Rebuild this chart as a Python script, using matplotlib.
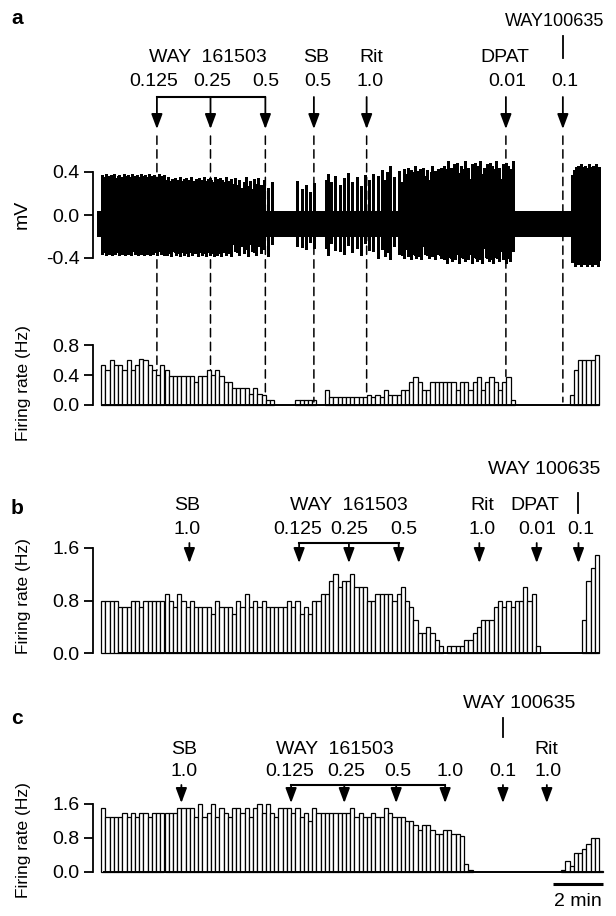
import numpy as np
import matplotlib
matplotlib.use('Agg')
import matplotlib.pyplot as plt
from matplotlib.transforms import blended_transform_factory as btf
from matplotlib.patches import ConnectionPatch

plt.rcParams['font.family'] = ['Liberation Sans', 'DejaVu Sans']

# ---------------- data (10-s bins) ----------------
rate_a = [.53, .47, .6, .53, .53, .47, .6, .47, .53, .62,
          .6, .53, .47, .4, .53, .47, .38, .38, .38, .38,
          .38, .38, .3, .38, .38, .47, .4, .47, .38, .3,
          .3, .22, .22, .22, .22, .15, .22, .15, .13, .07,
          .07, 0, 0, 0, 0, 0, .07, .07, .07, .07,
          .07, 0, 0, .2, .1, .1, .1, .1, .1, .1,
          .1, .1, .1, .13, .1, .13, .1, .2, .13, .13,
          .13, .2, .2, .3, .37, .3, .2, .2, .3, .3,
          .3, .3, .3, .3, .2, .3, .3, .2, .3, .37,
          .2, .3, .37, .3, .2, .3, .37, .07, 0, 0,
          0, 0, 0, 0, 0, 0, 0, 0, 0, 0,
          0, .13, .47, .6, .6, .6, .6, .67]

rate_b = [.8, .8, .8, .8, .7, .7, .7, .8, .8, .7,
          .8, .8, .8, .8, .8, .9, .8, .7, .9, .8,
          .7, .8, .7, .7, .7, .7, .6, .8, .7, .7,
          .7, .6, .8, .7, .9, .7, .8, .7, .8, .7,
          .7, .7, .7, .7, .8, .7, .8, .6, .7, .6,
          .8, .8, .9, .9, 1.1, 1.2, 1.0, 1.1, 1.1, 1.2,
          1.0, 1.0, 1.0, .8, .8, .9, .9, .9, .9, .8,
          .9, 1.0, .8, .7, .5, .3, .3, .4, .3, .2,
          .1, 0, .1, .1, .1, .1, .2, .2, .3, .4,
          .5, .5, .5, .7, .8, .7, .8, .7, .8, .8,
          1.0, .8, .9, .1, 0, 0, 0, 0, 0, 0,
          0, 0, 0, 0, .5, 1.1, 1.3, 1.5]

rate_c = [1.5, 1.3, 1.3, 1.3, 1.3, 1.4, 1.3, 1.4, 1.3, 1.4,
          1.4, 1.3, 1.4, 1.4, 1.4, 1.4, 1.4, 1.4, 1.5, 1.5,
          1.5, 1.5, 1.3, 1.6, 1.3, 1.4, 1.6, 1.3, 1.5, 1.4,
          1.3, 1.5, 1.5, 1.4, 1.5, 1.3, 1.5, 1.6, 1.4, 1.6,
          1.4, 1.3, 1.5, 1.5, 1.5, 1.4, 1.5, 1.3, 1.4, 1.2,
          1.5, 1.4, 1.4, 1.4, 1.4, 1.4, 1.4, 1.4, 1.4, 1.5,
          1.3, 1.4, 1.3, 1.3, 1.4, 1.3, 1.3, 1.5, 1.4, 1.3,
          1.3, 1.3, 1.2, 1.2, 1.1, 1.0, 1.1, 1.1, 1.0, 0.9,
          0.9, 1.0, 1.0, 0.9, 0.9, 0.85, 0.2, 0.05, 0, 0,
          0, 0, 0, 0, 0, 0, 0, 0, 0, 0,
          0, 0, 0, 0, 0, 0, 0, 0, 0, 0.05,
          0.25, 0.15, 0.45, 0.45, 0.55, 0.65, 0.8, 0.8, 0.02]

# trace envelope (mV) per segment starting at bin
trace_env_start = [0, 15, 41, 53, 65, 81, 110]
trace_env_top = [0.37, 0.34, 0.30, 0.38, 0.44, 0.48, 0.46]
trace_env_bottom = [-0.36, -0.37, -0.32, -0.36, -0.40, -0.43, -0.46]
noise_top, noise_bottom = 0.035, -0.20
trace_span = [-0.9, 117.6]

# drug application times (bins)
a_way161503_t = [13.2, 25.9, 38.9]
a_single_t = [50.4, 62.9, 95.9, 109.4]     # SB, Rit, DPAT, WAY100635
a_dash_end = [0.46, 0.46, 0.15, 0.04, 0.16, 0.38, 0.04]

b_way161503_t = [46.9, 58.7, 70.5]
b_single_t = [20.9, 89.6, 103.2, 113.1]   # SB, Rit, DPAT, WAY100635

c_way161503_t = [45.0, 57.6, 69.9, 81.5]
c_single_t = [19.0, 95.2, 105.6]           # SB, WAY100635, Rit

yticks_trace = [-0.4, 0.0, 0.4]
yticks_a = [0.0, 0.4, 0.8]
yticks_bc = [0.0, 0.8, 1.6]
scale_bar_bins = [107, 119]

# ---------------- layout ----------------
W, H = 616, 916
fig = plt.figure(figsize=(W / 100, H / 100), dpi=100)
fig.patch.set_facecolor('white')
FS = 14


def fy(y):
    return 1 - y / H


BIN_PX = 4.22
X0_PX = 101.2
AX_L, AX_R = 93, 606
XLIM = ((AX_L - X0_PX) / BIN_PX, (AX_R - X0_PX) / BIN_PX)


def make_ax(val_ref, px_ref, px0, ylo, yhi, ticks):
    ppu = (px0 - px_ref) / val_ref
    top = px0 - yhi * ppu
    bot = px0 - ylo * ppu
    ax = fig.add_axes([AX_L / W, fy(bot), (AX_R - AX_L) / W, (bot - top) / H])
    ax.set_xlim(*XLIM)
    ax.set_ylim(ylo, yhi)
    for s in ['top', 'right', 'bottom']:
        ax.spines[s].set_visible(False)
    ax.spines['left'].set_linewidth(1.3)
    ax.spines['left'].set_bounds(ticks[0], ticks[-1])
    ax.set_xticks([])
    ax.set_yticks(ticks)
    ax.set_yticklabels(['%.1f' % t for t in ticks])
    ax.tick_params(axis='y', length=6.5, width=1.3, labelsize=FS, pad=3)
    ax.patch.set_alpha(0)
    return ax


ax_t = make_ax(0.4, 172, 215, -0.52, 0.56, yticks_trace)
ax_a = make_ax(0.8, 345, 405, -0.04, 0.85, yticks_a)
ax_b = make_ax(1.6, 548, 653, -0.05, 1.65, yticks_bc)
ax_c = make_ax(1.6, 804, 872, -0.07, 1.66, yticks_bc)

# ---------------- trace ----------------
ax_t.fill_between(trace_span, noise_bottom, noise_top, color='k', lw=0)
amp_top = [1.0, 0.82, 0.95, 0.74, 0.9, 1.04, 0.8, 0.92, 0.7, 0.98, 0.86]
amp_bot = [0.92, 1.0, 0.78, 0.95, 0.85, 1.03, 0.72, 0.9]
spk_t, spk_lo, spk_hi = [], [], []
k = 0
for i, r in enumerate(rate_a):
    n = int(round(r * 10))
    seg = np.searchsorted(trace_env_start, i, side='right') - 1
    for j in range(n):
        spk_t.append(i + (j + 0.5) / n)
        spk_hi.append(trace_env_top[seg] * amp_top[k % len(amp_top)])
        spk_lo.append(trace_env_bottom[seg] * amp_bot[k % len(amp_bot)])
        k += 1
ax_t.vlines(spk_t, spk_lo, spk_hi, color='k', lw=1.0, antialiased=False)


# ---------------- bars ----------------
def draw_bars(ax, rates, base):
    r = np.asarray(rates, dtype=float)
    idx = np.arange(len(r))
    m = r > 0
    ax.bar(idx[m], r[m], width=1.0, align='edge', color='white',
           edgecolor='black', linewidth=0.9, zorder=2)
    ax.plot(base, [0, 0], color='black', lw=1.4, solid_capstyle='butt',
            zorder=3, clip_on=False)


draw_bars(ax_a, rate_a, [0, 118])
draw_bars(ax_b, rate_b, [3.9, 118])
draw_bars(ax_c, rate_c, [0.4, 119])

# ---------------- annotations ----------------
arrow_kw = dict(arrowstyle='-|>,head_length=0.75,head_width=0.28',
                color='black', lw=1.3, shrinkA=0, shrinkB=0,
                mutation_scale=12)


def arrow(ax, t, y_start, y_tip):
    tr = btf(ax.transData, fig.transFigure)
    ax.annotate('', xy=(t, fy(y_tip)), xycoords=tr,
                xytext=(t, fy(y_start)), textcoords=tr,
                arrowprops=arrow_kw, annotation_clip=False)


def vbar(ax, t, y1, y2):
    tr = btf(ax.transData, fig.transFigure)
    ax.plot([t, t], [fy(y1), fy(y2)], transform=tr, color='k', lw=1.3,
            clip_on=False)


def bracket(ax, ts, y_br, y_tip):
    tr = btf(ax.transData, fig.transFigure)
    ax.plot([ts[0], ts[-1]], [fy(y_br), fy(y_br)], transform=tr, color='k',
            lw=1.5, clip_on=False, solid_capstyle='projecting')
    for t in ts:
        arrow(ax, t, y_br, y_tip)


def txt(x, y, s, size=FS, **kw):
    fig.text(x / W, fy(y), s, ha='center', va='center', fontsize=size, **kw)


# panel a
txt(17, 18, 'a', size=15, fontweight='bold')
txt(555, 21, 'WAY100635', size=13)
vbar(ax_t, a_single_t[3], 36, 58)
for s, x in [('WAY  161503', 208), ('SB', 316), ('Rit', 371), ('DPAT', 505)]:
    txt(x, 57, s)
for s, x in [('0.125', 154), ('0.25', 212), ('0.5', 266), ('0.5', 318),
             ('1.0', 370), ('0.01', 507), ('0.1', 565)]:
    txt(x, 81, s)
bracket(ax_t, a_way161503_t, 97, 129)
for t in a_single_t:
    arrow(ax_t, t, 97, 129)
tr_t = btf(ax_t.transData, fig.transFigure)
for t, e in zip(a_way161503_t + a_single_t, a_dash_end):
    cp = ConnectionPatch(xyA=(t, fy(136)), coordsA=tr_t, xyB=(t, e),
                         coordsB=ax_a.transData, color='k', lw=1.1,
                         linestyle=(0, (5.5, 3.5)), zorder=1)
    fig.add_artist(cp)

# panel b
txt(17, 508, 'b', size=15, fontweight='bold')
txt(544, 470, 'WAY 100635')
vbar(ax_b, b_single_t[3], 493, 513)
for s, x in [('SB', 187), ('WAY  161503', 349), ('Rit', 482), ('DPAT', 535)]:
    txt(x, 506, s)
for s, x in [('1.0', 187), ('0.125', 298), ('0.25', 349), ('0.5', 404),
             ('1.0', 482), ('0.01', 537), ('0.1', 581)]:
    txt(x, 529, s)
bracket(ax_b, b_way161503_t, 543, 563)
for t in b_single_t:
    arrow(ax_b, t, 543, 563)

# panel c
txt(17, 718, 'c', size=15, fontweight='bold')
txt(519, 703, 'WAY 100635')
vbar(ax_c, c_single_t[1], 718, 737)
for s, x in [('SB', 184), ('WAY  161503', 335), ('Rit', 546)]:
    txt(x, 750, s)
for s, x in [('1.0', 184), ('0.125', 290), ('0.25', 346), ('0.5', 398),
             ('1.0', 450), ('0.1', 503), ('1.0', 548)]:
    txt(x, 772, s)
bracket(ax_c, c_way161503_t, 785, 803)
for t in c_single_t:
    arrow(ax_c, t, 785, 803)

# scale bar
tr_c = btf(ax_c.transData, fig.transFigure)
ax_c.plot(scale_bar_bins, [fy(884), fy(884)], transform=tr_c, color='k',
          lw=2.2, clip_on=False, solid_capstyle='butt')
ax_c.text(np.mean(scale_bar_bins), fy(902), '2 min', transform=tr_c,
          ha='center', va='center', fontsize=FS)

# y labels
YL = 12.5
fig.text(22 / W, fy(214), 'mV', rotation=90, ha='center', va='center', fontsize=FS)
fig.text(24 / W, fy(383), 'Firing rate (Hz)', rotation=90, ha='center', va='center', fontsize=YL)
fig.text(24 / W, fy(596), 'Firing rate (Hz)', rotation=90, ha='center', va='center', fontsize=YL)
fig.text(24 / W, fy(840), 'Firing rate (Hz)', rotation=90, ha='center', va='center', fontsize=YL)

fig.savefig('out.png', dpi=100, facecolor='white')
